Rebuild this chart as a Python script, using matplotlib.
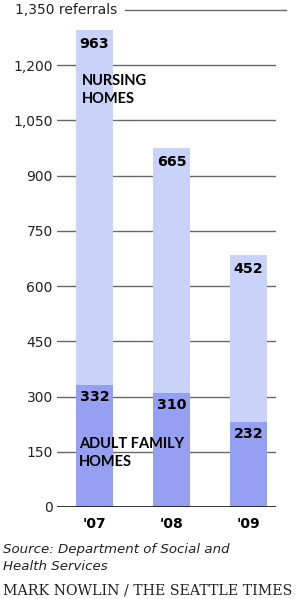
import matplotlib
matplotlib.use("Agg")
import matplotlib.pyplot as plt

years = ["'07", "'08", "'09"]
adult_family = [332, 310, 232]
nursing = [963, 665, 452]
yticks = [0, 150, 300, 450, 600, 750, 900, 1050, 1200]
ytick_labels = ["0", "150", "300", "450", "600", "750", "900", "1,050", "1,200"]

W, H = 296, 599
fig = plt.figure(figsize=(W / 100, H / 100), dpi=100)
fig.patch.set_facecolor("white")
ax = fig.add_axes([57 / W, 92 / H, 219 / W, 497 / H])
ax.set_xlim(-0.487, 2.357)
ax.set_ylim(0, 1350)
for s in ax.spines.values():
    s.set_visible(False)

light = "#C9D3FA"
dark = "#96A0F2"
width = 0.48
x = list(range(len(years)))

for y in yticks[1:]:
    ax.axhline(y, color="#666666", lw=1.0, zorder=1)
ax.axhline(1350, xmin=0.31, xmax=1.046, color="#666666", lw=1.0, zorder=1, clip_on=False)

ax.bar(x, adult_family, width=width, color=dark, zorder=2, linewidth=0)
ax.bar(x, nursing, width=width, bottom=adult_family, color=light, zorder=2, linewidth=0)
ax.axhline(0, color="#222222", lw=1.3, zorder=3)

ax.set_yticks(yticks)
ax.set_yticklabels(ytick_labels, fontsize=10, family="DejaVu Sans", color="#222222")
ax.tick_params(axis="y", length=0, pad=3)
ax.set_xticks(x)
ax.set_xticklabels(years, fontsize=10, fontweight="bold", family="DejaVu Sans")
ax.tick_params(axis="x", length=0, pad=7)

ax.text(0.30, 1350, "1,350 referrals", ha="right", va="center", fontsize=10,
        family="DejaVu Sans", color="#222222", clip_on=False)

for i in x:
    top = adult_family[i] + nursing[i]
    ax.annotate(str(nursing[i]), xy=(i, top), xytext=(0, -10), textcoords="offset points",
                ha="center", va="center", fontsize=10.3, fontweight="bold", family="DejaVu Sans", zorder=4)
    ax.annotate(str(adult_family[i]), xy=(i, adult_family[i]), xytext=(0, -8.6), textcoords="offset points",
                ha="center", va="center", fontsize=10.3, fontweight="bold", family="DejaVu Sans", zorder=4)

ax.annotate("NURSING\nHOMES", xy=(-width / 2, 1133), xytext=(4.3, 0), textcoords="offset points",
            ha="left", va="center", fontsize=10.5, fontweight="bold", family="Lato", linespacing=1.4, zorder=4)
ax.annotate("ADULT FAMILY\nHOMES", xy=(-width / 2, 147), xytext=(2.2, 0), textcoords="offset points",
            ha="left", va="center", fontsize=10.5, fontweight="bold", family="Lato", linespacing=1.4, zorder=4)

fig.text(3 / W, 1 - 550 / H, "Source: Department of Social and", ha="left", va="center",
         fontsize=9.6, style="italic", family="DejaVu Sans", color="#222222")
fig.text(3 / W, 1 - 567 / H, "Health Services", ha="left", va="center",
         fontsize=9.6, style="italic", family="DejaVu Sans", color="#222222")
fig.text(3 / W, 1 - 590 / H, "MARK NOWLIN / THE SEATTLE TIMES", ha="left", va="center",
         fontsize=10.2, family="DejaVu Serif", color="#222222")

fig.savefig("out.png", dpi=100, facecolor="white")
